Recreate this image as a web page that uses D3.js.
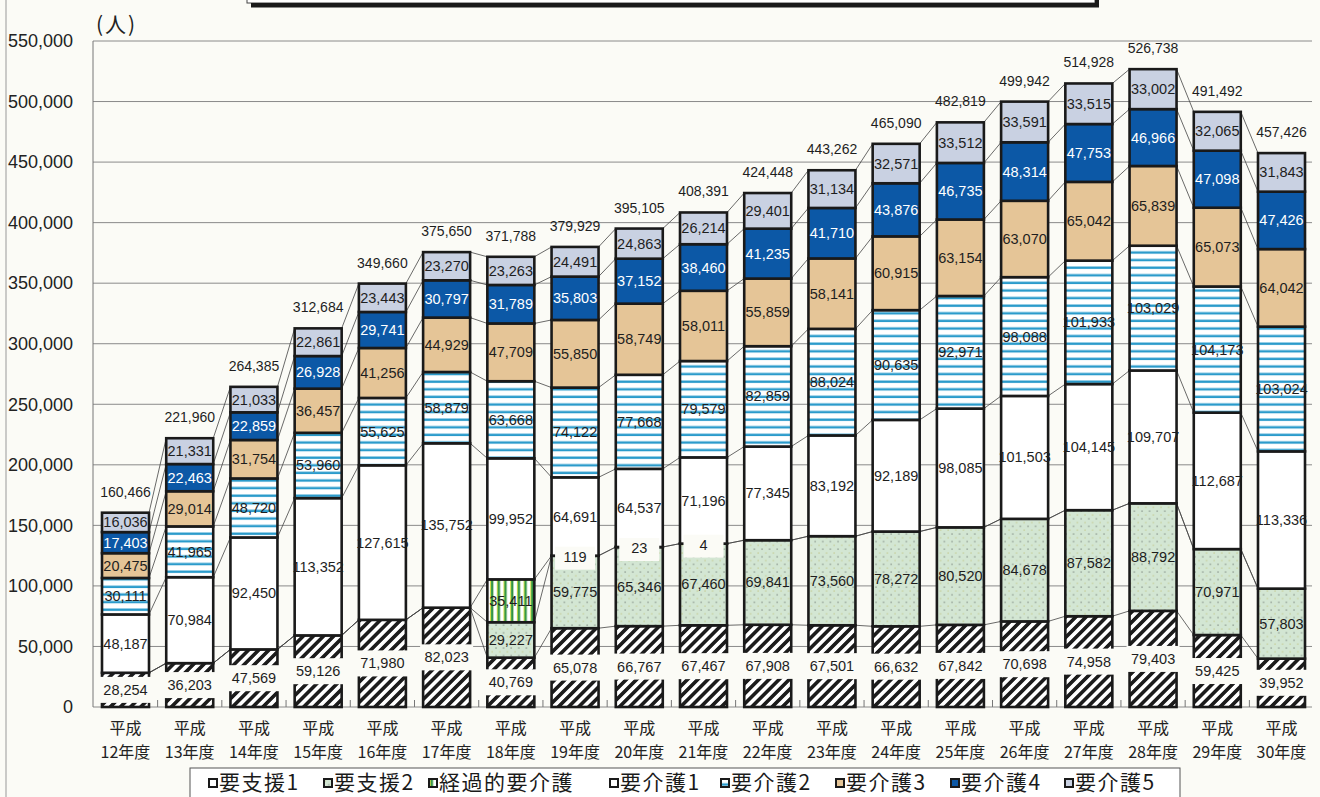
<!DOCTYPE html>
<html>
<head>
<meta charset="utf-8">
<script src="https://cdn.jsdelivr.net/npm/d3@7"></script>
<style>
  body { margin: 0; background: #fbfbf6; }
  svg { display: block; }
  .num { font-family: "Liberation Sans", Arial, sans-serif; }
  .jp { font-family: "Noto Sans CJK JP", sans-serif; }
</style>
</head>
<body>
<svg id="chart"></svg>
<script>
var width = 1320;
var height = 797;

// 平成12年度 .. 平成30年度
var years = ["12", "13", "14", "15", "16", "17", "18", "19", "20", "21",
             "22", "23", "24", "25", "26", "27", "28", "29", "30"];

var youShien1 = [28254, 36203, 47569, 59126, 71980, 82023, 40769, 65078, 66767, 67467,
                 67908, 67501, 66632, 67842, 70698, 74958, 79403, 59425, 39952];
var youShien2 = [0, 0, 0, 0, 0, 0, 29227, 59775, 65346, 67460,
                 69841, 73560, 78272, 80520, 84678, 87582, 88792, 70971, 57803];
var keika = [0, 0, 0, 0, 0, 0, 35411, 119, 23, 4,
             0, 0, 0, 0, 0, 0, 0, 0, 0];
var kaigo1 = [48187, 70984, 92450, 113352, 127615, 135752, 99952, 64691, 64537, 71196,
              77345, 83192, 92189, 98085, 101503, 104145, 109707, 112687, 113336];
var kaigo2 = [30111, 41965, 48720, 53960, 55625, 58879, 63668, 74122, 77668, 79579,
              82859, 88024, 90635, 92971, 98088, 101933, 103029, 104173, 103024];
var kaigo3 = [20475, 29014, 31754, 36457, 41256, 44929, 47709, 55850, 58749, 58011,
              55859, 58141, 60915, 63154, 63070, 65042, 65839, 65073, 64042];
var kaigo4 = [17403, 22463, 22859, 26928, 29741, 30797, 31789, 35803, 37152, 38460,
              41235, 41710, 43876, 46735, 48314, 47753, 46966, 47098, 47426];
var kaigo5 = [16036, 21331, 21033, 22861, 23443, 23270, 23263, 24491, 24863, 26214,
              29401, 31134, 32571, 33512, 33591, 33515, 33002, 32065, 31843];
var totals = [160466, 221960, 264385, 312684, 349660, 375650, 371788, 379929, 395105, 408391,
              424448, 443262, 465090, 482819, 499942, 514928, 526738, 491492, 457426];

var seriesNames = ["要支援1", "要支援2", "経過的要介護", "要介護1", "要介護2", "要介護3", "要介護4", "要介護5"];
var yTicks = [0, 50000, 100000, 150000, 200000, 250000, 300000, 350000, 400000, 450000, 500000, 550000];

var seriesValues = [youShien1, youShien2, keika, kaigo1, kaigo2, kaigo3, kaigo4, kaigo5];
var fills = ["url(#hatch)", "url(#dots)", "url(#vstripe)", "#ffffff",
             "url(#hstripe)", "#e5c597", "#0c58a6", "#c9d1e2"];
var legendX = [209, 324, 429, 610, 721, 836, 951, 1065];

var bg = "#fbfbf6";
var barW = 47;

var rows = years.map(function(y, i) {
    var r = { year: y };
    seriesNames.forEach(function(s, k) { r[s] = seriesValues[k][i]; });
    return r;
});
var stacked = d3.stack().keys(seriesNames)(rows);

var svg = d3.select("#chart")
    .attr("width", width)
    .attr("height", height);

svg.append("rect").attr("width", width).attr("height", height).attr("fill", bg);

// patterns
var defs = svg.append("defs");
var p = defs.append("pattern").attr("id", "hatch").attr("patternUnits", "userSpaceOnUse")
    .attr("width", 7.2).attr("height", 7.2).attr("patternTransform", "rotate(45)");
p.append("rect").attr("width", 7.2).attr("height", 7.2).attr("fill", "#ffffff");
p.append("rect").attr("width", 3.6).attr("height", 7.2).attr("fill", "#1c1c1c");

p = defs.append("pattern").attr("id", "dots").attr("patternUnits", "userSpaceOnUse")
    .attr("width", 7.6).attr("height", 7.6);
p.append("rect").attr("width", 7.6).attr("height", 7.6).attr("fill", "#d3e6d3");
p.append("circle").attr("cx", 2).attr("cy", 2).attr("r", 0.9).attr("fill", "#97a59a");
p.append("circle").attr("cx", 5.8).attr("cy", 5.8).attr("r", 0.8).attr("fill", "#c6cf9c");

p = defs.append("pattern").attr("id", "vstripe").attr("patternUnits", "userSpaceOnUse")
    .attr("width", 6.7).attr("height", 10);
p.append("rect").attr("width", 6.7).attr("height", 10).attr("fill", "#ffffff");
p.append("rect").attr("x", 1).attr("width", 1).attr("height", 10).attr("fill", "#cfdc3c");
p.append("rect").attr("x", 2).attr("width", 2.2).attr("height", 10).attr("fill", "#2e9440");

p = defs.append("pattern").attr("id", "hstripe").attr("patternUnits", "userSpaceOnUse")
    .attr("width", 10).attr("height", 7.6);
p.append("rect").attr("width", 10).attr("height", 7.6).attr("fill", "#ffffff");
p.append("rect").attr("y", 0.5).attr("width", 10).attr("height", 2.4).attr("fill", "#2b9bcb");

// scales
var xScale = d3.scalePoint()
    .domain(years)
    .range([125.5, 1281.5]);

var yScale = d3.scaleLinear()
    .domain([0, 550000])
    .range([707, 41]);

// page frame + title box remnant
svg.append("line").attr("x1", 6).attr("x2", 6).attr("y1", 0).attr("y2", height)
    .attr("stroke", "#999").attr("stroke-width", 1);
svg.append("rect").attr("x", 247).attr("y", -20).attr("width", 848).attr("height", 23)
    .attr("fill", "#ffffff").attr("stroke", "#444").attr("stroke-width", 1);
svg.append("rect").attr("x", 251).attr("y", 3).attr("width", 848).attr("height", 4.5).attr("fill", "#1a1a1a");
svg.append("rect").attr("x", 1095).attr("y", -20).attr("width", 4).attr("height", 27).attr("fill", "#1a1a1a");

// grid
svg.append("g").selectAll("line")
    .data(yTicks)
    .enter().append("line")
    .attr("x1", 93).attr("x2", 1312)
    .attr("y1", function(d) { return yScale(d); })
    .attr("y2", function(d) { return yScale(d); })
    .attr("stroke", "#8a8a8a").attr("stroke-width", 1);

svg.append("line").attr("x1", 93).attr("x2", 93).attr("y1", yScale(550000)).attr("y2", yScale(0))
    .attr("stroke", "#777").attr("stroke-width", 1);

// y axis labels
var yAxis = svg.append("g")
    .attr("class", "num")
    .attr("transform", "translate(73,0)")
    .call(d3.axisLeft(yScale).tickValues(yTicks).tickSize(0).tickPadding(0).tickFormat(d3.format(",")));
yAxis.select(".domain").remove();
yAxis.selectAll("text")
    .attr("font-size", 18)
    .attr("fill", "#222")
    .attr("font-family", "'Liberation Sans', Arial, sans-serif");

svg.append("text").attr("class", "jp")
    .attr("x", 96).attr("y", 32)
    .attr("font-size", 21).attr("letter-spacing", 2).attr("fill", "#222")
    .text("(人)");

// small ticks between bars
var step = xScale.step();
svg.append("g").selectAll("line")
    .data(years.slice(0, years.length - 1))
    .enter().append("line")
    .attr("x1", function(d) { return xScale(d) + step / 2; })
    .attr("x2", function(d) { return xScale(d) + step / 2; })
    .attr("y1", 700).attr("y2", 707)
    .attr("stroke", "#777").attr("stroke-width", 1);

// connecting lines between bars
var links = svg.append("g");
stacked.forEach(function(layer) {
    for (var i = 0; i < years.length - 1; i++) {
        links.append("line")
            .attr("x1", xScale(years[i]) + barW / 2)
            .attr("x2", xScale(years[i + 1]) - barW / 2)
            .attr("y1", yScale(layer[i][1]))
            .attr("y2", yScale(layer[i + 1][1]))
            .attr("stroke", "#444").attr("stroke-width", 0.8);
    }
});

// bars
var marks = svg.append("g");
stacked.forEach(function(layer, k) {
    marks.selectAll(".s" + k)
        .data(layer.filter(function(d) { return d[1] - d[0] > 0; }))
        .enter().append("rect")
        .attr("class", "s" + k)
        .attr("x", function(d) { return xScale(d.data.year) - barW / 2; })
        .attr("width", barW)
        .attr("y", function(d) { return yScale(d[1]); })
        .attr("height", function(d) { return Math.max(0.1, yScale(d[0]) - yScale(d[1])); })
        .attr("fill", fills[k])
        .attr("stroke", "#1a1a1a")
        .attr("stroke-width", 2.6);
});

// labels
var labels = svg.append("g").attr("class", "num");
stacked.forEach(function(layer, k) {
    layer.forEach(function(d) {
        var v = d[1] - d[0];
        if (v <= 0) return;
        var cx = xScale(d.data.year);
        var mid = (yScale(d[0]) + yScale(d[1])) / 2;
        var ty = mid + 5;
        if (k === 0) {
            labels.append("rect")
                .attr("x", cx - barW / 2 - 3).attr("width", barW + 6)
                .attr("y", mid - 13).attr("height", 26)
                .attr("fill", bg);
        }
        if (k === 2 && v < 1000) {
            var top = yScale(d[1]);
            labels.append("rect")
                .attr("x", cx - barW / 2 + 3.5).attr("width", barW - 7)
                .attr("y", top - 9).attr("height", 23)
                .attr("fill", bg);
            ty = top + 6;
        }
        labels.append("text")
            .attr("x", cx).attr("y", ty)
            .attr("text-anchor", "middle")
            .attr("font-size", 14.5)
            .attr("fill", k === 6 ? "#ffffff" : "#1e1e1e")
            .text(d3.format(",")(v));
    });
});

// totals
svg.append("g").attr("class", "num").selectAll("text")
    .data(years)
    .enter().append("text")
    .attr("x", function(d) { return xScale(d); })
    .attr("y", function(d, i) { return yScale(totals[i]) - 16; })
    .attr("text-anchor", "middle")
    .attr("font-size", 14)
    .attr("fill", "#1e1e1e")
    .text(function(d, i) { return d3.format(",")(totals[i]); });

// x labels
var xl = svg.append("g").attr("class", "jp");
xl.selectAll(".l1").data(years).enter().append("text")
    .attr("class", "l1")
    .attr("x", function(d) { return xScale(d); })
    .attr("y", 734)
    .attr("text-anchor", "middle").attr("font-size", 16).attr("fill", "#222")
    .text("平成");
xl.selectAll(".l2").data(years).enter().append("text")
    .attr("class", "l2")
    .attr("x", function(d) { return xScale(d); })
    .attr("y", 758)
    .attr("text-anchor", "middle").attr("font-size", 16).attr("fill", "#222")
    .text(function(d) { return d + "年度"; });

// legend
var lg = svg.append("g");
lg.append("rect").attr("x", 190).attr("y", 768).attr("width", 990).attr("height", 40)
    .attr("fill", "#ffffff").attr("stroke", "#555").attr("stroke-width", 1);
seriesNames.forEach(function(s, k) {
    lg.append("rect")
        .attr("x", legendX[k]).attr("y", 779)
        .attr("width", 8).attr("height", 8)
        .attr("fill", k === 0 ? "#ffffff" : fills[k])
        .attr("stroke", "#1a1a1a").attr("stroke-width", 2);
    lg.append("text").attr("class", "jp")
        .attr("x", legendX[k] + 10).attr("y", 790)
        .attr("font-size", 21).attr("letter-spacing", 1.5).attr("fill", "#1a1a1a")
        .text(s);
});
</script>
</body>
</html>
